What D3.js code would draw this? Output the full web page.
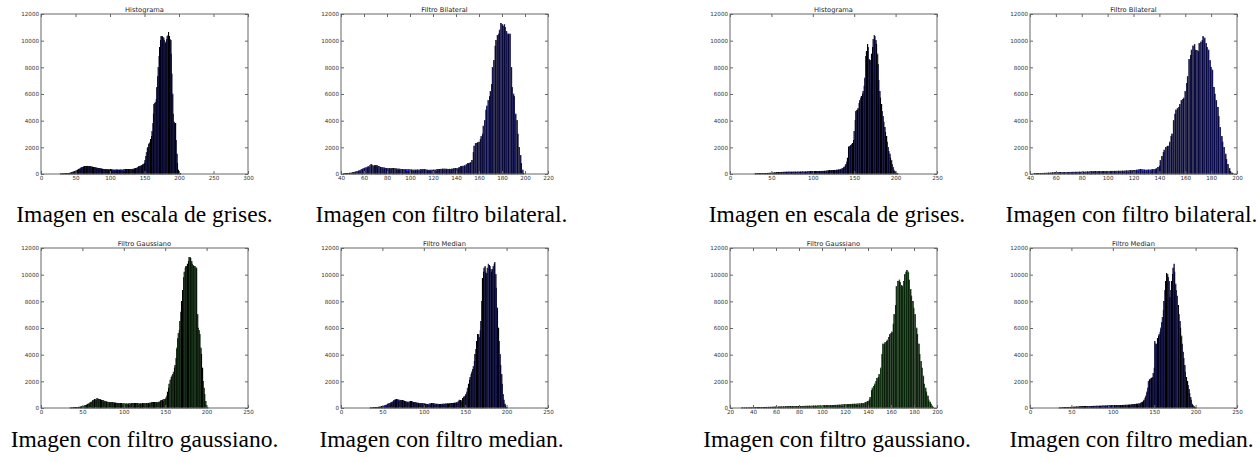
<!DOCTYPE html>
<html>
<head>
<meta charset="utf-8">
<script src="https://cdn.jsdelivr.net/npm/d3@7"></script>
<style>
  body { margin: 0; background: #fff; }
  svg { display: block; }
</style>
</head>
<body>
<svg id="chart" width="1260" height="462"></svg>
<script>
// ---- data (counts per grey level) ----
const titles = ["Histograma", "Filtro Bilateral", "Histograma", "Filtro Bilateral",
                "Filtro Gaussiano", "Filtro Median", "Filtro Gaussiano", "Filtro Median"];
const captions = ["Imagen en escala de grises.", "Imagen con filtro bilateral.",
                  "Imagen en escala de grises.", "Imagen con filtro bilateral.",
                  "Imagen con filtro gaussiano.", "Imagen con filtro median.",
                  "Imagen con filtro gaussiano.", "Imagen con filtro median."];
const xDomains = [[0, 300], [40, 220], [0, 250], [40, 200], [0, 250], [0, 250], [20, 200], [0, 250]];
const xSteps = [50, 20, 50, 20, 50, 50, 20, 50];
const barColors = ["#0000ff", "#0000ff", "#0000ff", "#0000ff", "#008000", "#0000ff", "#008000", "#0000ff"];
const firstLevels = [28, 42, 30, 43, 35, 35, 30, 35];
const yTicks = [0, 2000, 4000, 6000, 8000, 10000, 12000];

const histGrisA = [
  10,10,15,15,20,20,25,25,30,30,40,45,
  50,60,70,85,100,120,140,160,180,200,
  220,240,270,300,330,360,390,420,450,480,
  500,520,540,550,560,570,580,580,580,570,
  570,560,550,540,530,520,500,490,480,470,
  460,450,440,430,420,410,400,390,380,370,
  360,350,340,340,330,330,320,320,320,320,
  330,330,320,320,310,310,300,300,300,310,
  310,310,300,300,300,310,310,300,300,310,
  320,320,320,330,330,330,340,340,340,350,
  350,350,360,360,370,380,390,400,420,450,
  480,520,560,580,600,620,640,680,720,760,
  800,1000,1300,1600,1900,2000,2200,2300,2400,2600,
  2800,3200,3800,4500,5200,5300,5400,5600,6500,7300,
  8000,8800,9500,10000,10300,10300,10300,10250,10200,10000,
  9800,9900,10100,10300,10400,10600,10300,10100,10000,9000,
  7500,6000,4500,3900,3800,3800,2500,1500,800,300,
  120,50,20,8];
const bilateralA = [
  10,20,30,40,50,60,70,80,
  100,120,140,160,180,200,250,300,350,380,
  420,450,480,520,560,620,700,680,620,640,
  650,630,600,560,520,500,480,460,450,430,
  410,400,400,410,420,420,410,400,390,380,
  380,370,360,350,340,330,330,320,320,320,
  320,310,310,300,300,300,300,310,310,320,
  330,340,350,340,320,300,290,290,290,300,
  300,300,310,320,330,340,350,360,370,380,
  380,370,360,360,360,360,370,380,400,400,
  400,420,450,500,550,580,590,600,620,700,
  780,800,820,850,1000,1600,2100,2300,2300,2350,
  2400,2600,2800,3000,3600,4000,4800,5100,5500,5800,
  6200,6700,8000,8500,9600,10000,10400,10500,10800,11300,
  11200,11100,11200,11000,10700,10500,10500,10500,8000,6500,
  6000,5800,4500,4000,3000,2000,1400,800,300,50];
const histGrisB = [
  20,20,25,25,30,30,35,35,40,40,
  45,45,50,50,55,55,60,60,65,65,
  70,75,80,85,90,95,100,105,110,115,
  120,125,130,130,135,140,140,145,145,150,
  150,150,150,150,150,150,150,150,150,150,
  150,150,155,155,155,160,160,160,160,160,
  160,165,165,170,170,170,175,175,175,180,
  180,180,185,185,190,190,190,195,195,200,
  200,205,210,210,215,220,225,230,240,245,
  250,250,255,255,260,260,270,280,290,295,
  300,310,320,340,360,380,420,460,520,600,
  700,900,1200,2000,2050,2100,2150,2200,2300,2500,
  3200,4000,4700,4750,4800,4900,5300,5500,5700,5800,
  6000,6200,6600,7200,8800,9200,9700,9500,8600,8500,
  8500,9000,9500,10100,10400,10300,10000,9700,9000,8200,
  7000,6200,5700,5200,4700,4300,3900,3500,3100,2800,
  2400,2000,1700,1500,1200,1000,700,500,300,200,
  100,60,30,15];
const bilateralB = [
  20,25,30,35,40,45,50,
  55,60,65,70,75,80,85,90,95,100,
  100,105,105,110,110,115,115,120,120,125,
  130,130,135,135,140,140,145,145,150,150,
  150,155,155,160,160,165,170,170,175,175,
  180,180,185,185,190,190,195,195,200,200,
  200,205,205,210,210,210,215,215,220,220,
  220,225,225,230,235,240,240,245,250,255,
  260,270,280,300,320,330,330,320,310,300,
  300,300,310,310,320,330,340,360,400,500,
  600,1000,1300,1600,1800,2000,2050,2100,2400,2800,
  3000,4000,4500,4800,4900,5000,5200,5500,5600,5700,
  6200,6800,7300,8600,8900,9300,9600,9700,9300,9250,
  9200,9800,9900,10000,10300,10200,9800,9500,9300,8500,
  8000,7800,6500,6000,5500,5000,4300,3500,2800,2400,
  2000,1500,1100,700,400,200,80,30];
const gaussA = [
  10,12,15,20,25,
  30,35,40,45,50,55,65,75,85,95,
  110,130,150,170,200,230,260,300,340,380,
  420,460,500,550,600,640,660,680,700,680,
  650,630,610,590,570,550,530,510,490,470,
  450,440,430,420,420,420,410,400,390,380,
  380,370,360,350,340,340,330,330,320,320,
  320,315,310,310,310,310,310,320,320,330,
  330,340,350,350,350,350,340,330,320,320,
  320,320,320,330,330,330,340,340,350,350,
  360,370,380,390,400,400,410,410,420,420,
  420,430,440,460,500,550,580,600,620,640,
  650,750,900,1200,1500,1800,2100,2300,2400,2500,
  2700,3000,3200,3700,4500,5200,5600,5800,6500,7200,
  8000,8800,9800,10200,10500,10600,10600,10800,11000,11300,
  11300,11200,11000,10800,10700,10600,10600,10500,10500,7000,
  6000,5800,5500,4500,4000,3000,2000,1500,1000,500,
  200,60,10];
const medianA = [
  10,12,15,20,25,
  30,35,40,45,50,60,70,80,90,100,
  110,130,150,170,200,230,260,300,330,360,
  390,420,460,500,560,600,620,650,630,610,
  600,590,580,570,560,550,530,500,480,460,
  450,440,450,470,480,480,470,440,420,410,
  400,390,380,370,360,350,340,330,330,320,
  320,310,300,290,280,280,290,310,320,330,
  330,330,320,310,300,300,290,290,280,280,
  280,285,290,290,300,300,305,310,315,320,
  320,330,340,340,350,350,360,370,380,390,
  400,450,520,600,550,500,550,700,800,850,
  900,1000,1200,1500,1800,2100,2300,2500,2700,2900,
  3100,3500,4000,4400,5000,5500,5500,5300,5800,6500,
  8000,9700,10200,10500,10600,10200,10100,10500,10800,10700,
  10600,10400,10200,10400,10600,10800,10900,10000,9000,7500,
  6000,5000,4000,3200,2500,1800,1000,600,300,150,
  50,10];
const gaussB = [
  8,9,10,11,12,13,14,15,16,17,
  30,32,35,37,40,42,44,46,48,50,
  52,55,58,60,62,65,68,70,72,75,
  80,82,84,86,88,90,92,94,96,98,
  100,102,104,106,108,110,112,114,116,118,
  120,123,126,129,132,135,138,141,144,147,
  150,152,154,156,158,160,162,164,166,168,
  170,173,176,179,182,185,188,191,194,197,
  200,205,210,215,220,225,230,235,240,245,
  250,255,260,265,270,280,285,290,295,300,
  300,305,310,315,320,330,350,380,420,460,
  500,600,800,1300,1500,1600,1800,2000,2200,2300,
  2500,3000,4000,4800,4800,4900,5000,5100,5300,5500,
  5600,5700,6300,7000,7700,9100,9500,9600,9400,9200,
  9100,9500,10000,10200,10300,10200,9600,8900,8400,8000,
  7500,7000,6000,5500,4800,4000,3500,3000,2400,1800,
  1500,1200,900,600,450,300,150,60];
const medianB = [
  10,12,15,18,22,
  30,33,36,40,43,46,50,53,56,58,
  60,64,68,72,76,80,84,88,92,96,
  100,102,104,106,108,110,112,114,116,118,
  120,122,124,126,128,130,132,134,136,138,
  140,142,144,146,148,150,152,154,156,158,
  160,162,164,166,168,170,172,174,176,178,
  180,182,184,186,188,190,192,194,196,198,
  200,203,206,209,212,215,218,221,224,227,
  230,235,240,245,250,260,270,280,290,300,
  300,310,320,340,370,400,450,520,600,750,
  900,1200,1500,2000,2100,2150,2200,2250,2300,2600,
  3000,5000,4800,4800,5200,5400,5500,5700,6000,6400,
  6800,7300,8000,8800,9500,10100,10000,9800,9500,8300,
  8800,9500,10000,10500,10800,10200,9300,8800,8400,7700,
  7000,6500,6000,5400,4800,4200,3700,3200,2700,2300,
  2000,1700,1400,1100,800,600,300,200,100,50,
  20,5];
const series = [histGrisA, bilateralA, histGrisB, bilateralB, gaussA, medianA, gaussB, medianB];

// ---- layout ----
const svg = d3.select("#chart");
const axW = 207, axH = 160;
const colX = [41, 341, 730, 1030];
const rowY = [14, 248];
const captionX = [144.5, 441.5, 837, 1131.5];
const captionGap = [48, 39];
const nBins = 256;

series.forEach((counts, i) => {
    const row = i < 4 ? 0 : 1;
    const col = i % 4;
    const left = colX[col], top = rowY[row];

    const g = svg.append("g").attr("transform", `translate(${left},${top})`);

    const x = d3.scaleLinear().domain(xDomains[i]).range([0, axW]);
    const y = d3.scaleLinear().domain([0, 12000]).range([axH, 0]);

    // matplotlib style binning: 256 bins between the lowest and highest level
    const lo = firstLevels[i], hi = lo + counts.length - 1;
    const binW = (hi - lo) / nBins;
    const bars = counts.map((c, k) => {
        const idx = Math.min(nBins - 1, Math.floor(k / binW));
        return { x0: lo + idx * binW, c: c };
    });

    g.append("g")
        .selectAll("rect")
        .data(bars)
        .enter().append("rect")
        .attr("x", d => x(d.x0))
        .attr("width", d => x(d.x0 + binW) - x(d.x0))
        .attr("y", d => y(d.c))
        .attr("height", d => axH - y(d.c))
        .attr("fill", barColors[i])
        .attr("stroke", "#000")
        .attr("stroke-width", 0.6);

    const xt = d3.range(xDomains[i][0], xDomains[i][1] + 1, xSteps[i]);

    const styleAxis = sel => {
        sel.select(".domain").remove();
        sel.selectAll("line").attr("stroke", "#666");
        sel.selectAll("text")
            .attr("font-family", "DejaVu Sans")
            .attr("font-size", "5.6px")
            .attr("fill", "#333");
    };

    g.append("g").attr("transform", `translate(0,${axH})`)
        .call(d3.axisBottom(x).tickValues(xt).tickFormat(d3.format("d"))
            .tickSizeInner(-3).tickSizeOuter(0).tickPadding(2.5))
        .call(styleAxis);
    g.append("g")
        .call(d3.axisTop(x).tickValues(xt).tickFormat("")
            .tickSizeInner(-3).tickSizeOuter(0))
        .call(styleAxis);
    g.append("g")
        .call(d3.axisLeft(y).tickValues(yTicks).tickFormat(d3.format("d"))
            .tickSizeInner(-3).tickSizeOuter(0).tickPadding(2))
        .call(styleAxis);
    g.append("g").attr("transform", `translate(${axW},0)`)
        .call(d3.axisRight(y).tickValues(yTicks).tickFormat("")
            .tickSizeInner(-3).tickSizeOuter(0))
        .call(styleAxis);

    g.append("rect")
        .attr("x", 0).attr("y", 0)
        .attr("width", axW).attr("height", axH)
        .attr("fill", "none")
        .attr("stroke", "#666")
        .attr("stroke-width", 1);

    g.append("text")
        .attr("x", axW / 2).attr("y", -2.5)
        .attr("text-anchor", "middle")
        .attr("font-family", "DejaVu Sans")
        .attr("font-size", "6.7px")
        .attr("fill", "#222")
        .text(titles[i]);

    svg.append("text")
        .attr("x", captionX[col])
        .attr("y", top + axH + captionGap[row])
        .attr("text-anchor", "middle")
        .attr("font-family", "Liberation Serif")
        .attr("font-size", "23.5px")
        .attr("fill", "#000")
        .text(captions[i]);
});
</script>
</body>
</html>
